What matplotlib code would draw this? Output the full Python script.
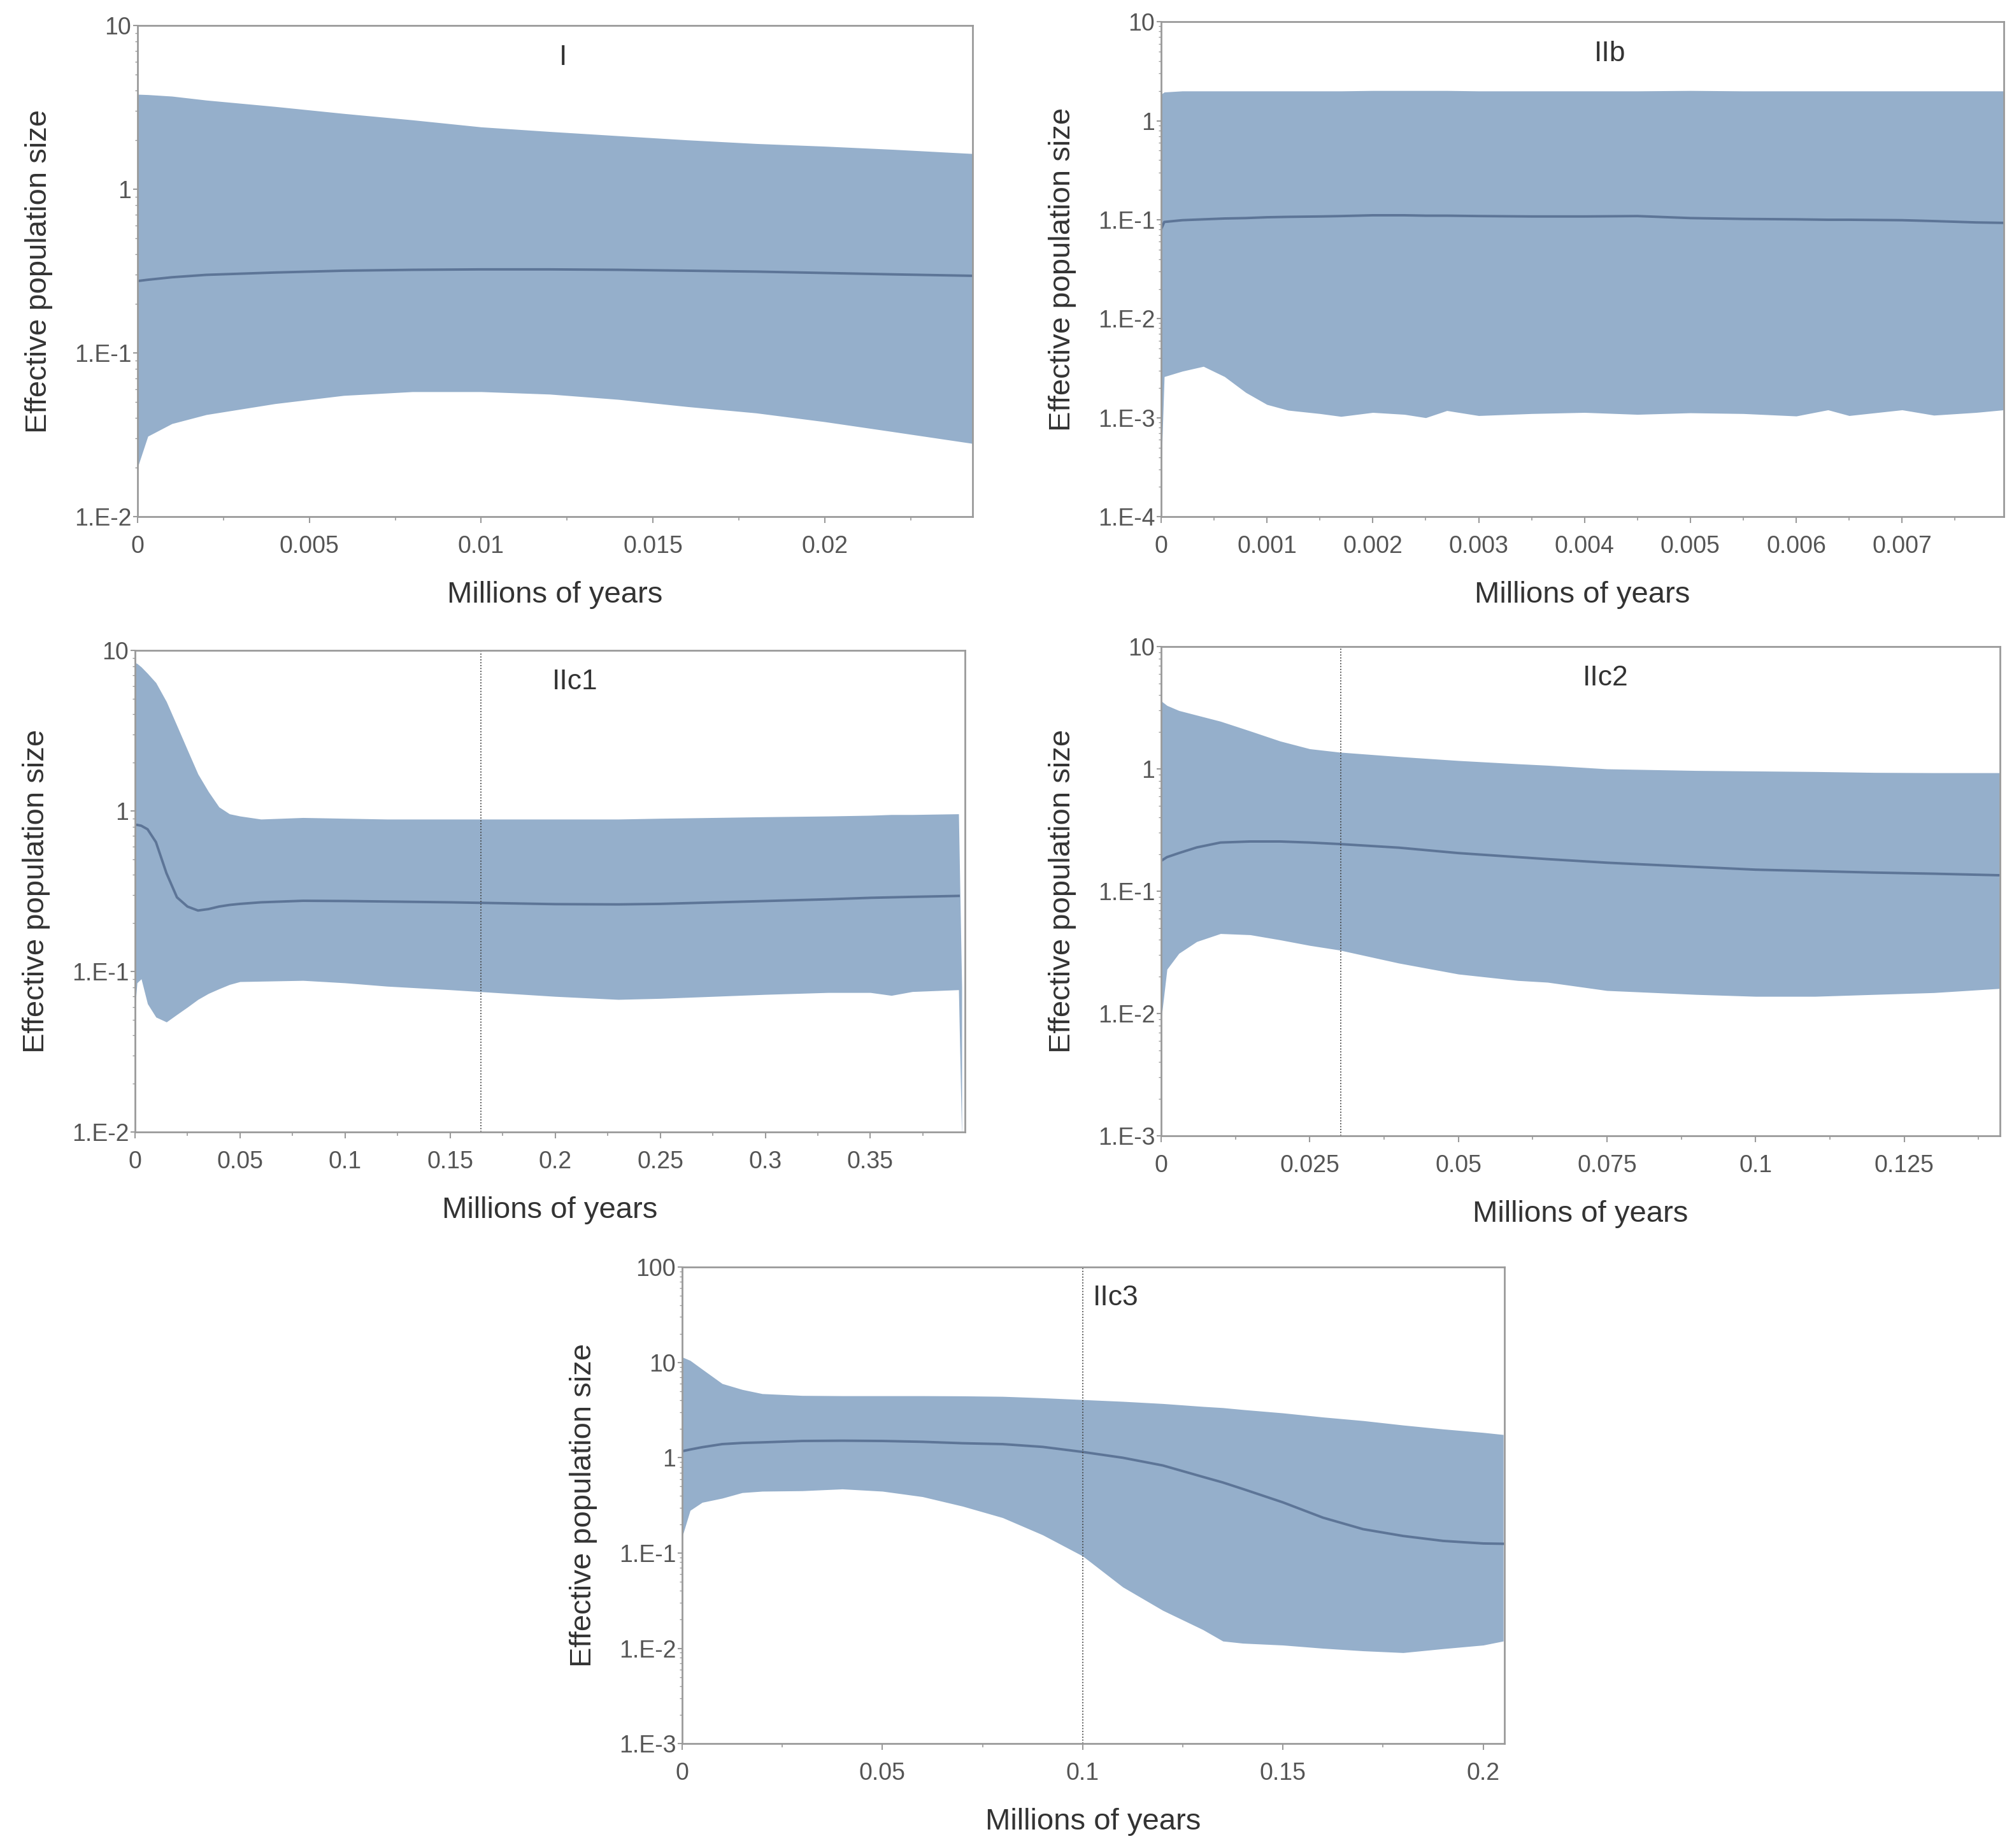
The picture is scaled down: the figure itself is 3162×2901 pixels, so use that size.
import numpy as np
import matplotlib
matplotlib.use("Agg")
import matplotlib.pyplot as plt
from matplotlib.ticker import LogLocator, NullFormatter

plt.rcParams['font.family'] = ['Liberation Sans', 'DejaVu Sans']

# ---- panel I ----
i_x = [0, 0.0003, 0.001, 0.002, 0.004, 0.006, 0.008, 0.010, 0.012, 0.014, 0.016, 0.018, 0.020, 0.022, 0.0243]
i_upper = [3.8, 3.78, 3.7, 3.5, 3.2, 2.9, 2.65, 2.4, 2.25, 2.12, 2.0, 1.9, 1.83, 1.75, 1.65]
i_median = [0.275, 0.28, 0.29, 0.30, 0.31, 0.318, 0.322, 0.324, 0.324, 0.322, 0.318, 0.314, 0.308, 0.302, 0.296]
i_lower = [0.020, 0.031, 0.037, 0.042, 0.049, 0.055, 0.058, 0.058, 0.056, 0.052, 0.047, 0.043, 0.038, 0.033, 0.028]

# ---- panel IIb ----
iib_x = [0, 0.00003, 0.0002, 0.0004, 0.0006, 0.0008, 0.001, 0.0012, 0.0015, 0.0017, 0.002, 0.0023,
         0.0025, 0.0027, 0.003, 0.0035, 0.004, 0.0045, 0.005, 0.0055, 0.006, 0.0063, 0.0065, 0.007,
         0.0073, 0.0077, 0.00796]
iib_upper = [1.85, 1.95, 2.0, 2.0, 2.0, 2.0, 2.0, 2.0, 2.0, 2.0, 2.02, 2.02, 2.02, 2.02, 2.0, 2.0,
             2.0, 2.0, 2.02, 2.0, 2.0, 2.0, 2.0, 2.0, 2.0, 2.0, 2.0]
iib_median = [0.08, 0.095, 0.099, 0.101, 0.103, 0.104, 0.106, 0.107, 0.108, 0.109, 0.111, 0.111,
              0.11, 0.11, 0.109, 0.108, 0.108, 0.109, 0.104, 0.102, 0.101, 0.1, 0.1, 0.099,
              0.097, 0.094, 0.093]
iib_lower = [2.7e-4, 2.6e-3, 2.95e-3, 3.3e-3, 2.6e-3, 1.8e-3, 1.36e-3, 1.19e-3, 1.1e-3, 1.03e-3,
             1.13e-3, 1.08e-3, 1.0e-3, 1.18e-3, 1.05e-3, 1.1e-3, 1.13e-3, 1.08e-3, 1.12e-3, 1.1e-3,
             1.04e-3, 1.2e-3, 1.05e-3, 1.2e-3, 1.06e-3, 1.13e-3, 1.2e-3]

# ---- panel IIc1 ----
iic1_x = [0, 0.001, 0.003, 0.006, 0.01, 0.015, 0.02, 0.025, 0.03, 0.035, 0.04, 0.045, 0.05, 0.06,
          0.08, 0.1, 0.12, 0.15, 0.2, 0.23, 0.25, 0.3, 0.33, 0.35, 0.36, 0.37, 0.392, 0.3935]
iic1_upper = [8.4, 8.3, 7.9, 7.2, 6.3, 4.8, 3.4, 2.4, 1.7, 1.32, 1.06, 0.96, 0.93, 0.89, 0.91, 0.9,
              0.89, 0.89, 0.89, 0.89, 0.9, 0.92, 0.93, 0.94, 0.95, 0.95, 0.96, 0.08]
iic1_median = [0.82, 0.82, 0.81, 0.77, 0.64, 0.41, 0.29, 0.254, 0.24, 0.245, 0.254, 0.26, 0.264, 0.27,
               0.276, 0.275, 0.273, 0.27, 0.263, 0.262, 0.264, 0.275, 0.282, 0.288, 0.29, 0.292, 0.296, np.nan]
iic1_lower = [0.058, 0.085, 0.09, 0.063, 0.052, 0.0485, 0.054, 0.06, 0.067, 0.073, 0.078, 0.083, 0.0865,
              0.087, 0.088, 0.085, 0.081, 0.077, 0.070, 0.067, 0.068, 0.072, 0.074, 0.074, 0.071, 0.075,
              0.077, 0.009]

# ---- panel IIc2 ----
iic2_x = [0, 0.001, 0.003, 0.006, 0.01, 0.015, 0.02, 0.025, 0.03, 0.04, 0.05, 0.06, 0.065, 0.075,
          0.09, 0.1, 0.11, 0.12, 0.13, 0.141]
iic2_upper = [3.6, 3.3, 3.0, 2.75, 2.45, 2.04, 1.69, 1.46, 1.37, 1.26, 1.17, 1.1, 1.07, 1.0, 0.97,
              0.96, 0.95, 0.935, 0.93, 0.93]
iic2_median = [0.177, 0.19, 0.205, 0.228, 0.25, 0.255, 0.255, 0.25, 0.243, 0.227, 0.205, 0.19, 0.183,
               0.171, 0.158, 0.15, 0.146, 0.142, 0.139, 0.135]
iic2_lower = [0.0088, 0.023, 0.031, 0.0387, 0.045, 0.044, 0.040, 0.036, 0.033, 0.0258, 0.021, 0.0186,
              0.018, 0.0154, 0.0143, 0.0138, 0.0138, 0.0143, 0.0148, 0.016]

# ---- panel IIc3 ----
iic3_x = [0, 0.002, 0.005, 0.01, 0.015, 0.02, 0.03, 0.04, 0.05, 0.06, 0.07, 0.08, 0.09, 0.1, 0.11,
          0.12, 0.13, 0.135, 0.14, 0.15, 0.16, 0.17, 0.18, 0.19, 0.2, 0.205]
iic3_upper = [11.4, 10.5, 8.5, 6.0, 5.2, 4.7, 4.5, 4.47, 4.47, 4.47, 4.45, 4.4, 4.25, 4.07, 3.9, 3.7,
              3.45, 3.35, 3.2, 2.95, 2.67, 2.45, 2.2, 2.0, 1.84, 1.75]
iic3_median = [1.17, 1.22, 1.29, 1.39, 1.43, 1.45, 1.5, 1.51, 1.5, 1.47, 1.42, 1.39, 1.3, 1.15, 1.0,
               0.83, 0.63, 0.55, 0.47, 0.34, 0.235, 0.178, 0.151, 0.134, 0.126, 0.125]
iic3_lower = [0.148, 0.28, 0.34, 0.376, 0.43, 0.445, 0.45, 0.47, 0.445, 0.39, 0.31, 0.235, 0.155,
              0.093, 0.044, 0.025, 0.0157, 0.0119, 0.0113, 0.0108, 0.01, 0.0094, 0.009, 0.0099,
              0.0108, 0.0119]

# tick labels
i_xticks = ['0', '0.005', '0.01', '0.015', '0.02']
iib_xticks = ['0', '0.001', '0.002', '0.003', '0.004', '0.005', '0.006', '0.007']
iic1_xticks = ['0', '0.05', '0.1', '0.15', '0.2', '0.25', '0.3', '0.35']
iic2_xticks = ['0', '0.025', '0.05', '0.075', '0.1', '0.125']
iic3_xticks = ['0', '0.05', '0.1', '0.15', '0.2']

y_names = {100: '100', 10: '10', 1: '1', 0.1: '1.E-1', 0.01: '1.E-2', 0.001: '1.E-3', 0.0001: '1.E-4'}

FILL = '#95afcb'
LINE = '#5d7597'
GREY = '#9a9a9a'


def draw_panel(rect, name, name_x, x, lower, median, upper, xticks, xmax, ymin, ymax, vline=None):
    ax = fig.add_axes(rect)
    ax.fill_between(x, lower, upper, color=FILL, lw=0)
    ax.plot(x, median, color=LINE, lw=2.8)
    if vline is not None:
        ax.axvline(vline, color='#444444', lw=1.3, ls=(0, (1, 1.5)))
    ax.set_yscale('log')
    ax.set_ylim(ymin, ymax)
    ax.set_xlim(0, xmax)
    yt = [v for v in sorted(y_names) if ymin <= v <= ymax]
    ax.set_yticks(yt, [y_names[v] for v in yt])
    ax.yaxis.set_minor_locator(LogLocator(base=10, subs=np.arange(2, 10)))
    ax.yaxis.set_minor_formatter(NullFormatter())
    xt = [float(s) for s in xticks]
    ax.set_xticks(xt, xticks)
    step = xt[1] - xt[0]
    ax.set_xticks(np.arange(0, xmax, step / 2), minor=True)
    for s in ax.spines.values():
        s.set_color(GREY)
        s.set_linewidth(2)
    ax.tick_params(axis='x', which='major', length=7, width=1.5, color=GREY,
                   labelsize=27, labelcolor='#555555', pad=14)
    ax.tick_params(axis='x', which='minor', length=4, width=1.2, color=GREY)
    ax.tick_params(axis='y', which='major', length=5, width=1.5, color=GREY,
                   labelsize=27, labelcolor='#555555', pad=2)
    ax.tick_params(axis='y', which='minor', length=3, width=1, color=GREY)
    ax.set_xlabel('Millions of years', fontsize=34, color='#333333', labelpad=26)
    ax.set_ylabel('Effective population size', fontsize=34, color='#333333', labelpad=24)
    ax.text(name_x, 0.935, name, transform=ax.transAxes, fontsize=32, color='#333333',
            ha='center', va='center')
    return ax


fig = plt.figure(figsize=(31.62, 29.01), dpi=100)

draw_panel([0.0683, 0.7204, 0.4146, 0.2658], 'I', 0.51, i_x, i_lower, i_median, i_upper,
           i_xticks, 0.0243, 1e-2, 10)
draw_panel([0.5765, 0.7204, 0.4184, 0.2678], 'IIb', 0.533, iib_x, iib_lower, iib_median, iib_upper,
           iib_xticks, 0.00796, 1e-4, 10)
draw_panel([0.0670, 0.3874, 0.4121, 0.2606], 'IIc1', 0.53, iic1_x, iic1_lower, iic1_median, iic1_upper,
           iic1_xticks, 0.395, 1e-2, 10, vline=0.1645)
draw_panel([0.5765, 0.3854, 0.4165, 0.2647], 'IIc2', 0.53, iic2_x, iic2_lower, iic2_median, iic2_upper,
           iic2_xticks, 0.1411, 1e-3, 10, vline=0.0302)
draw_panel([0.3387, 0.0565, 0.4083, 0.2578], 'IIc3', 0.527, iic3_x, iic3_lower, iic3_median, iic3_upper,
           iic3_xticks, 0.2053, 1e-3, 100, vline=0.1)

fig.savefig('out.png', dpi=100, facecolor='white')
